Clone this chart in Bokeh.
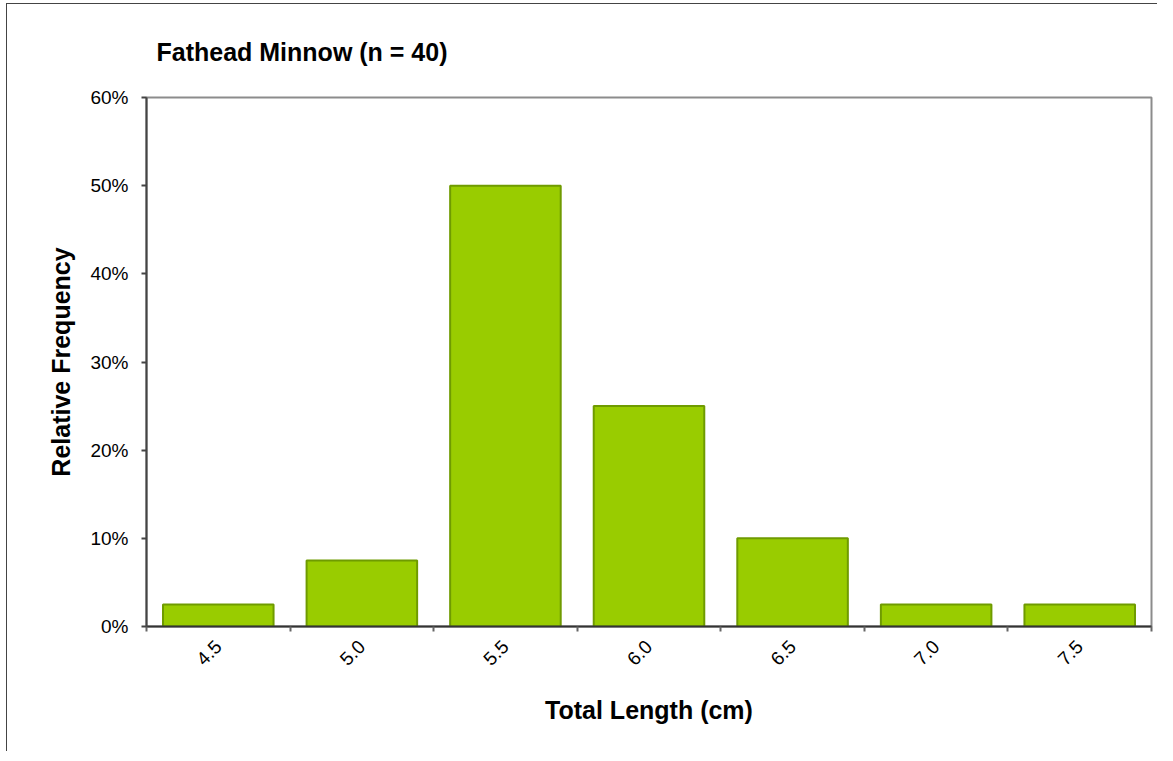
import math
from bokeh.plotting import figure
from bokeh.models import FixedTicker, NumeralTickFormatter, Range1d
from bokeh.embed import file_html
from bokeh.resources import INLINE

title_text = "Fathead Minnow (n = 40)"
categories = ["4.5", "5.0", "5.5", "6.0", "6.5", "7.0", "7.5"]
rel_freq = [0.025, 0.075, 0.50, 0.25, 0.10, 0.025, 0.025]
y_ticks = [0.0, 0.1, 0.2, 0.3, 0.4, 0.5, 0.6]
x_label = "Total Length (cm)"
y_label = "Relative Frequency"

FONT = "Liberation Sans"
n = len(categories)
centers = [i + 0.5 for i in range(n)]
bounds = list(range(n + 1))

p = figure(
    width=1155, height=747,
    x_range=Range1d(0, n), y_range=Range1d(0, y_ticks[-1]),
    output_backend="svg", toolbar_location=None,
    min_border_left=139, min_border_top=0,
    min_border_right=6, min_border_bottom=125,
)
p.frame_width = 1005
p.frame_height = 529
p.styles = {"margin-left": "6px", "margin-top": "3px",
            "border-left": "1px solid #444444", "border-top": "1px solid #444444"}

p.vbar(x=centers, top=rel_freq, width=0.77, bottom=0,
       fill_color="#99cc00", line_color="#6f9b00", line_width=2)

p.xgrid.visible = False
p.ygrid.visible = False
p.outline_line_color = "#8c8c8c"
p.outline_line_width = 2

# title
p.title.text = title_text
p.title.align = "left"
p.title.offset = 10
p.title.standoff = 63
p.title.text_font = FONT
p.title.text_font_style = "bold"
p.title.text_font_size = "25px"
p.title.text_color = "#000000"

# x axis
xa = p.xaxis[0]
xa.ticker = FixedTicker(ticks=centers, minor_ticks=bounds)
xa.major_label_overrides = {c: lab for c, lab in zip(centers, categories)}
xa.major_label_orientation = math.pi / 4
xa.major_tick_out = 0
xa.major_tick_in = 0
xa.minor_tick_out = 5
xa.minor_tick_in = 0
xa.minor_tick_line_color = "#666666"
xa.minor_tick_line_width = 2
xa.axis_line_color = "#333333"
xa.axis_line_width = 2
xa.major_label_standoff = 12
xa.major_label_text_font = FONT
xa.major_label_text_font_size = "19px"
xa.major_label_text_color = "#000000"
xa.axis_label = x_label
xa.axis_label_text_font = FONT
xa.axis_label_text_font_style = "bold"
xa.axis_label_text_font_size = "25px"
xa.axis_label_text_color = "#000000"
xa.axis_label_standoff = 22

# y axis
ya = p.yaxis[0]
ya.ticker = FixedTicker(ticks=y_ticks, minor_ticks=[])
ya.formatter = NumeralTickFormatter(format="0%")
ya.major_tick_out = 5
ya.major_tick_in = 0
ya.major_tick_line_color = "#444444"
ya.major_tick_line_width = 2
ya.minor_tick_out = 0
ya.minor_tick_in = 0
ya.axis_line_color = "#444444"
ya.axis_line_width = 2
ya.major_label_standoff = 13
ya.major_label_text_font = FONT
ya.major_label_text_font_size = "19px"
ya.major_label_text_color = "#000000"
ya.axis_label = y_label
ya.axis_label_text_font = FONT
ya.axis_label_text_font_style = "bold"
ya.axis_label_text_font_size = "25px"
ya.axis_label_text_color = "#000000"
ya.axis_label_standoff = 12

open("out.html", "w").write(file_html(p, INLINE))
